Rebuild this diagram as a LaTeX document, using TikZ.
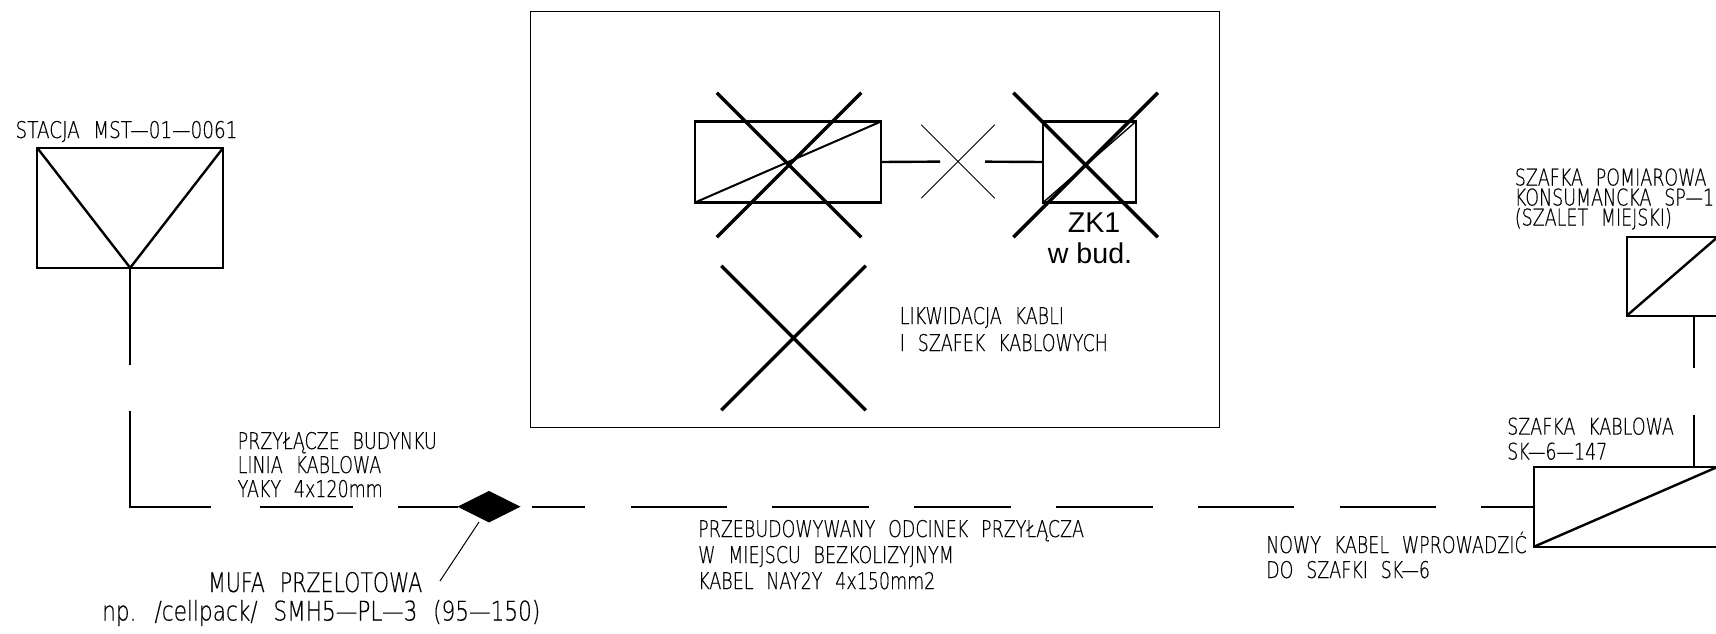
\documentclass[tikz,border=0pt]{standalone}
\usepackage{fontspec}
\setmainfont{Liberation Sans}
\newfontfamily\cadfont[FakeStretch=0.76,WordSpace=2.3,FakeBold=0.4]{DejaVu Sans ExtraLight}
\newfontfamily\cadwide[FakeStretch=0.80,WordSpace=2.3,FakeBold=0.4]{DejaVu Sans ExtraLight}
\usetikzlibrary{shapes.geometric,shapes.misc}
\tikzset{
  cable/.style={line width=2.4pt},
  cabinet/.style={draw,line width=2.3pt,rectangle,inner sep=0pt,outer sep=0pt},
  strike/.style={draw,cross out,line width=3.5pt,minimum size=144.5pt,inner sep=0pt,outer sep=0pt},
  caption/.style={anchor=base west,align=left,inner sep=0pt,font=\cadfont\fontsize{23}{#1}\selectfont},
  caption/.default=25
}
\begin{document}
\begin{tikzpicture}[x={(1pt,0)},y={(0,-1pt)}]
      \path[use as bounding box,clip] (0,0) rectangle (1716,634);
      \node[draw,line width=1pt,minimum width=689.5pt,minimum height=415.5pt,inner sep=0pt,outer sep=0pt] at (875,219.5) (frame){};
      \node[cabinet,minimum width=186pt,minimum height=120pt] at (130.2,207.8) (stacja){};
      \node[cabinet,minimum width=186pt,minimum height=81pt] at (788,162) (zlacze){};
      \node[cabinet,minimum width=93pt,minimum height=81pt] at (1089.5,162) (zk){};
      \node[cabinet,minimum width=184pt,minimum height=80pt] at (1626,506.7) (sk){};
      \node[cabinet,minimum width=91.3pt,minimum height=79pt] at (1672.4,276.2) (sp){};
      \node[fill=black,diamond,aspect=2,minimum width=63pt,minimum height=31.5pt,inner sep=0pt,outer sep=0pt] at (489,506.7) (mufa){};
      \coordinate (mufa leader) at (479,522);
      \coordinate (mufa label) at (440,581);
      \coordinate (odcinek) at (531.5,506.7);
      \coordinate (pion) at (1694,466.7);
      \draw[cable] (stacja.north west) -- (stacja.south) -- (stacja.north east);
      \draw[line width=2pt] (zlacze.south west) -- (zlacze.north east);
      \draw[line width=1.4pt] (zk.south west) -- (zk.north east);
      \draw[cable] (sk.south west) -- (sk.north east);
      \draw[cable] (sp.south west) -- (sp.north east);
      \draw[cable,dash pattern=on 97pt off 46.5pt on 176pt off 49pt on 93pt off 45pt on 70pt] (stacja.south) |- (mufa.west);
      \draw[cable,dash pattern=on 96.5pt off 45.3pt,dash phase=42.7pt] (odcinek) -- (sk.west);
      \draw[cable,dash pattern=on 52pt off 47pt on 60pt] (pion) -- (pion |- sp.south);
      \draw[line width=1pt] (mufa leader) -- (mufa label);
      \node[strike,line width=1pt,minimum size=73.5pt] at (958,161.5) (przerwa){};
      \draw[cable,dash pattern=on 59pt off 200pt] (zlacze.east) -- (przerwa.center);
      \draw[cable,dash pattern=on 58pt off 200pt] (zk.west) -- (przerwa.center);
      \foreach \name/\cx/\cy in {krzyz1/789/165,krzyz2/1085.6/165,krzyz3/793.5/338}
      { \node[strike] at (\cx,\cy) (\name){};}
      \node[anchor=base,inner sep=0pt,font=\fontsize{28.6}{31}\selectfont,align=center] at (1090,263) (zk opis){\hspace*{8pt}ZK1\\w bud.};
      \node[caption,font=\cadwide\fontsize{23}{25}\selectfont] at (15.3,138) (stacja opis){STACJA MST—01—0061};
      \node[caption=24] at (237.5,497) (przylacze opis){PRZYŁĄCZE BUDYNKU\\LINIA KABLOWA\\YAKY 4x120mm};
      \node[caption=26] at (698,589) (odcinek opis){PRZEBUDOWYWANY ODCINEK PRZYŁĄCZA\\W MIEJSCU BEZKOLIZYJNYM\\KABEL NAY2Y 4x150mm2};
      \node[caption=27] at (899.6,351) (likwidacja opis){LIKWIDACJA KABLI\\I SZAFEK KABLOWYCH};
      \node[caption=20] at (1514.6,225.5) (sp opis){SZAFKA POMIAROWA\\KONSUMANCKA SP—1\\(SZALET MIEJSKI)};
      \node[caption=25] at (1507,459.6) (sk opis){SZAFKA KABLOWA\\SK—6—147};
      \node[caption=25] at (1266,578) (nowy opis){NOWY KABEL WPROWADZIĆ\\DO SZAFKI SK—6};
      \node[anchor=base west,inner sep=0pt,font=\cadfont\fontsize{27}{28}\selectfont] at (208,592) (mufa opis){MUFA PRZELOTOWA};
      \node[anchor=base west,inner sep=0pt,font=\cadwide\fontsize{27}{28}\selectfont] at (102,620.5) (mufa typ){np. /cellpack/ SMH5—PL—3 (95—150)};
\end{tikzpicture}
\end{document}
